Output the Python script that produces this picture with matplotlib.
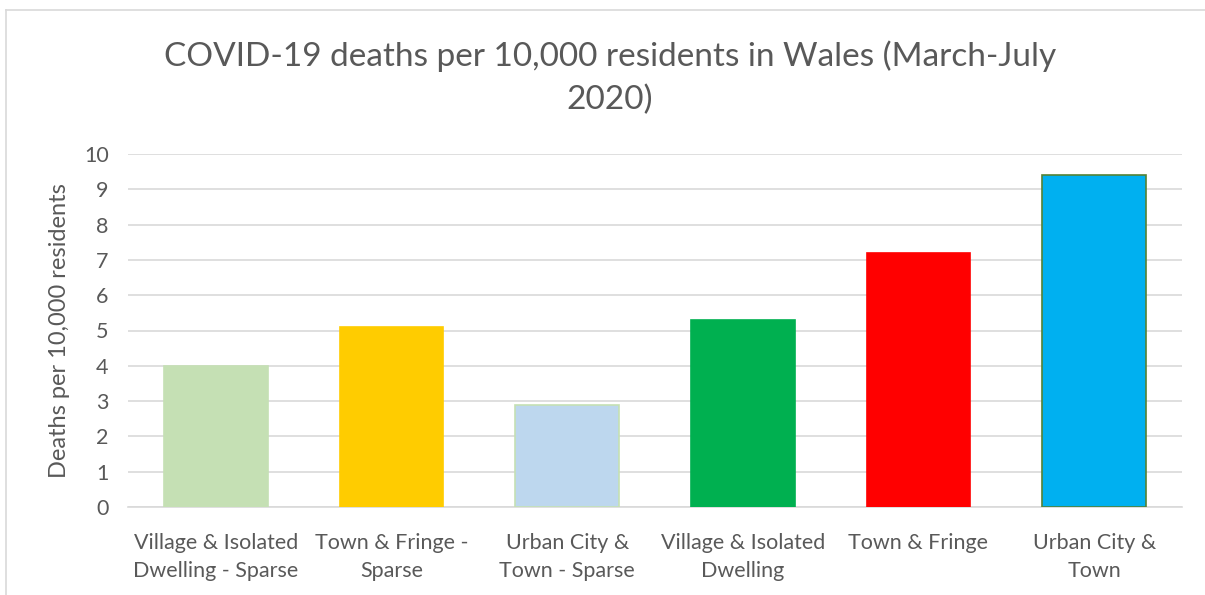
import matplotlib.pyplot as plt
from matplotlib.lines import Line2D

# values
categories = ['Village & Isolated\nDwelling - Sparse', 'Town & Fringe -\nSparse',
              'Urban City &\nTown - Sparse', 'Village & Isolated\nDwelling',
              'Town & Fringe', 'Urban City &\nTown']
deaths = [4.0, 5.1, 2.9, 5.3, 7.2, 9.4]
bar_colors = ['#C5E0B4', '#FFCC00', '#BDD7EE', '#00B050', '#FF0000', '#00B0F0']
edge_colors = ['#C5E0B4', '#FFCC00', '#C5E0B4', '#00B050', '#FF0000', '#548235']
yticks = list(range(0, 11))

plt.rcParams['font.family'] = ['Lato', 'DejaVu Sans']
txt = '#595959'

fig = plt.figure(figsize=(12.05, 5.95), dpi=100)
ax = fig.add_axes([128 / 1205, 1 - 507 / 595, (1182 - 128) / 1205, (507 - 154) / 595])

x = range(len(categories))
ax.bar(x, deaths, width=0.59, color=bar_colors, edgecolor=edge_colors, linewidth=1.2, zorder=3)

ax.set_xlim(-0.5, len(categories) - 0.5)
ax.set_ylim(0, 10)
ax.set_yticks(yticks)
ax.set_xticks(list(x))
ax.set_xticklabels(categories, fontsize=15.5, color=txt, linespacing=1.5)
ax.tick_params(axis='y', labelsize=15.5, colors=txt, length=0, pad=14)
ax.tick_params(axis='x', length=0, pad=19)
ax.grid(axis='y', color='#D9D9D9', linewidth=1.2, zorder=0)
for s in ['top', 'right', 'left']:
    ax.spines[s].set_visible(False)
ax.spines['bottom'].set_color('#D9D9D9')
ax.spines['bottom'].set_linewidth(1.2)

ax.set_ylabel('Deaths per 10,000 residents', fontsize=17, color=txt, labelpad=10)

fig.text(0.506, 0.905, 'COVID-19 deaths per 10,000 residents in Wales (March-July',
         ha='center', va='center', fontsize=24, color=txt)
fig.text(0.506, 0.832, '2020)', ha='center', va='center', fontsize=24, color=txt)

# chart frame (top and left edges visible)
fig.add_artist(Line2D([6 / 1205, 6 / 1205], [0, 1 - 10 / 595], color='#D9D9D9', lw=1.2))
fig.add_artist(Line2D([6 / 1205, 1], [1 - 10 / 595, 1 - 10 / 595], color='#D9D9D9', lw=1.2))

fig.savefig('out.png', dpi=100)
